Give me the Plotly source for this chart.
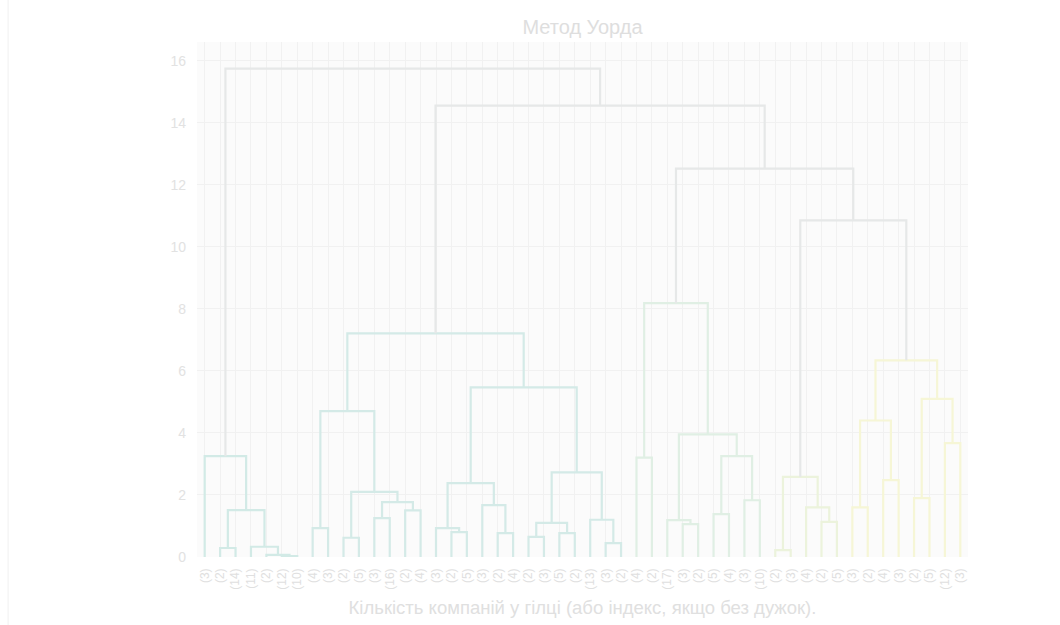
import plotly.graph_objects as go

# Leaf labels, left to right (cluster sizes in brackets, plain index otherwise)
leaf_labels = [
    "(3)", "(2)", "(14)", "(11)", "(2)", "(12)", "(10)", "(4)", "(3)", "(2)",
    "(5)", "(3)", "(16)", "(2)", "(4)", "(3)", "(2)", "(5)", "(3)", "(2)",
    "(4)", "(2)", "(3)", "(5)", "(2)", "(13)", "(3)", "(2)", "(4)", "(2)",
    "(17)", "(3)", "(2)", "(5)", "(4)", "(3)", "(10)", "(2)", "(3)", "(4)",
    "(2)", "(5)", "(3)", "(2)", "(4)", "(3)", "(2)", "(5)", "(12)", "(3)",
]

# Merge table: (left child, right child, distance). Children 0..49 are leaves,
# 50 and above refer to earlier merges (50 + row number).
merge_left = [5, 4, 3, 1, 53, 0,
              7, 9, 11, 13, 58, 57, 56, 16, 15, 19, 18, 64, 21, 23, 68, 26, 25, 70, 67, 62,
              28, 31, 30, 33, 35, 79, 78, 76,
              37, 40, 39, 84, 42, 44, 88, 46, 48, 91, 90, 87,
              83, 75, 55]
merge_right = [6, 50, 51, 2, 52, 54,
               8, 10, 12, 14, 59, 60, 61, 17, 63, 20, 65, 66, 22, 24, 69, 27, 71, 72, 73, 74,
               29, 32, 77, 34, 36, 80, 81, 82,
               38, 41, 85, 86, 43, 45, 89, 47, 49, 92, 93, 94,
               95, 96, 97]
merge_height = [0.03, 0.07, 0.33, 0.29, 1.51, 3.25,
                0.93, 0.62, 1.25, 1.50, 1.77, 2.10, 4.70, 0.80, 0.93, 0.77, 1.67, 2.38,
                0.65, 0.77, 1.10, 0.45, 1.20, 2.73, 5.47, 7.21,
                3.20, 1.06, 1.19, 1.38, 1.83, 3.25, 3.95, 8.18,
                0.22, 1.13, 1.60, 2.58, 1.60, 2.48, 4.40, 1.90, 3.67, 5.10, 6.34, 10.85,
                12.52, 14.55, 15.74]

color_threshold = 10.5
cluster_colors = ["rgb(210,234,230)", "rgb(212,234,231)", "rgb(224,239,228)",
                  "rgb(236,243,220)", "rgb(246,246,214)"]
above_color = "rgb(230,232,232)"

n_leaves = len(leaf_labels)
n_merges = len(merge_height)
leaf_pos = [5 + 10 * i for i in range(n_leaves)]

pos = {i: leaf_pos[i] for i in range(n_leaves)}
height = {i: 0.0 for i in range(n_leaves)}
parent = {}
for k, (a, b, h) in enumerate(zip(merge_left, merge_right, merge_height)):
    node = n_leaves + k
    pos[node] = (pos[a] + pos[b]) / 2
    height[node] = h
    parent[a] = node
    parent[b] = node


def subtree(node):
    if node < n_leaves:
        return [node]
    k = node - n_leaves
    return [node] + subtree(merge_left[k]) + subtree(merge_right[k])


# One colour per cluster below the threshold, a neutral colour above it
node_color = {}
for k in range(n_merges):
    if merge_height[k] >= color_threshold:
        node_color[n_leaves + k] = above_color

cluster_idx = 0
for k in range(n_merges):
    node = n_leaves + k
    if node in node_color:
        continue
    p = parent.get(node)
    if p is None or height[p] >= color_threshold:
        col = cluster_colors[cluster_idx % len(cluster_colors)]
        cluster_idx += 1
        for m in subtree(node):
            if m >= n_leaves:
                node_color[m] = col

fig = go.Figure()
for k, (a, b, h) in enumerate(zip(merge_left, merge_right, merge_height)):
    node = n_leaves + k
    fig.add_trace(go.Scatter(
        x=[pos[a], pos[a], pos[b], pos[b]],
        y=[height[a], h, h, height[b]],
        mode="lines",
        line=dict(color=node_color[node], width=2.2),
        hoverinfo="skip",
        showlegend=False,
    ))

font_family = "Liberation Sans, Arial, sans-serif"
fig.update_layout(
    width=1060, height=625,
    margin=dict(l=197, r=92, t=42, b=68),
    paper_bgcolor="white",
    plot_bgcolor="rgb(251,251,251)",
    font=dict(family=font_family, color="rgb(226,226,226)"),
    title=dict(text="Метод Уорда", x=0.5, xref="paper", y=1 - 27 / 625, yref="container",
               xanchor="center", yanchor="middle",
               font=dict(size=20, color="rgb(222,222,222)")),
    xaxis=dict(
        tickmode="array", tickvals=leaf_pos, ticktext=leaf_labels,
        tickangle=-90, tickfont=dict(size=12, color="rgb(224,224,224)"),
        ticklabelstandoff=8, automargin=False,
        range=[0, 10 * n_leaves], showgrid=True, gridcolor="rgb(241,241,241)",
        zeroline=False, showline=False, ticks="",
        title=dict(text="Кількість компаній у гілці (або індекс, якщо без дужок).",
                   font=dict(size=18.5, color="rgb(224,224,224)"), standoff=12),
    ),
    yaxis=dict(
        range=[0, 16.6], dtick=2, tick0=0, showgrid=True, gridcolor="rgb(241,241,241)",
        zeroline=False, showline=False, ticks="", ticklabelstandoff=10,
        automargin=False,
        tickfont=dict(size=14, color="rgb(226,226,226)"),
    ),
)

# faint page rule on the far left
fig.add_shape(type="line", xref="paper", yref="paper",
              x0=-0.245, x1=-0.245, y0=-0.2, y1=1.1,
              line=dict(color="rgb(240,240,240)", width=1))

fig.write_html("out.html")
